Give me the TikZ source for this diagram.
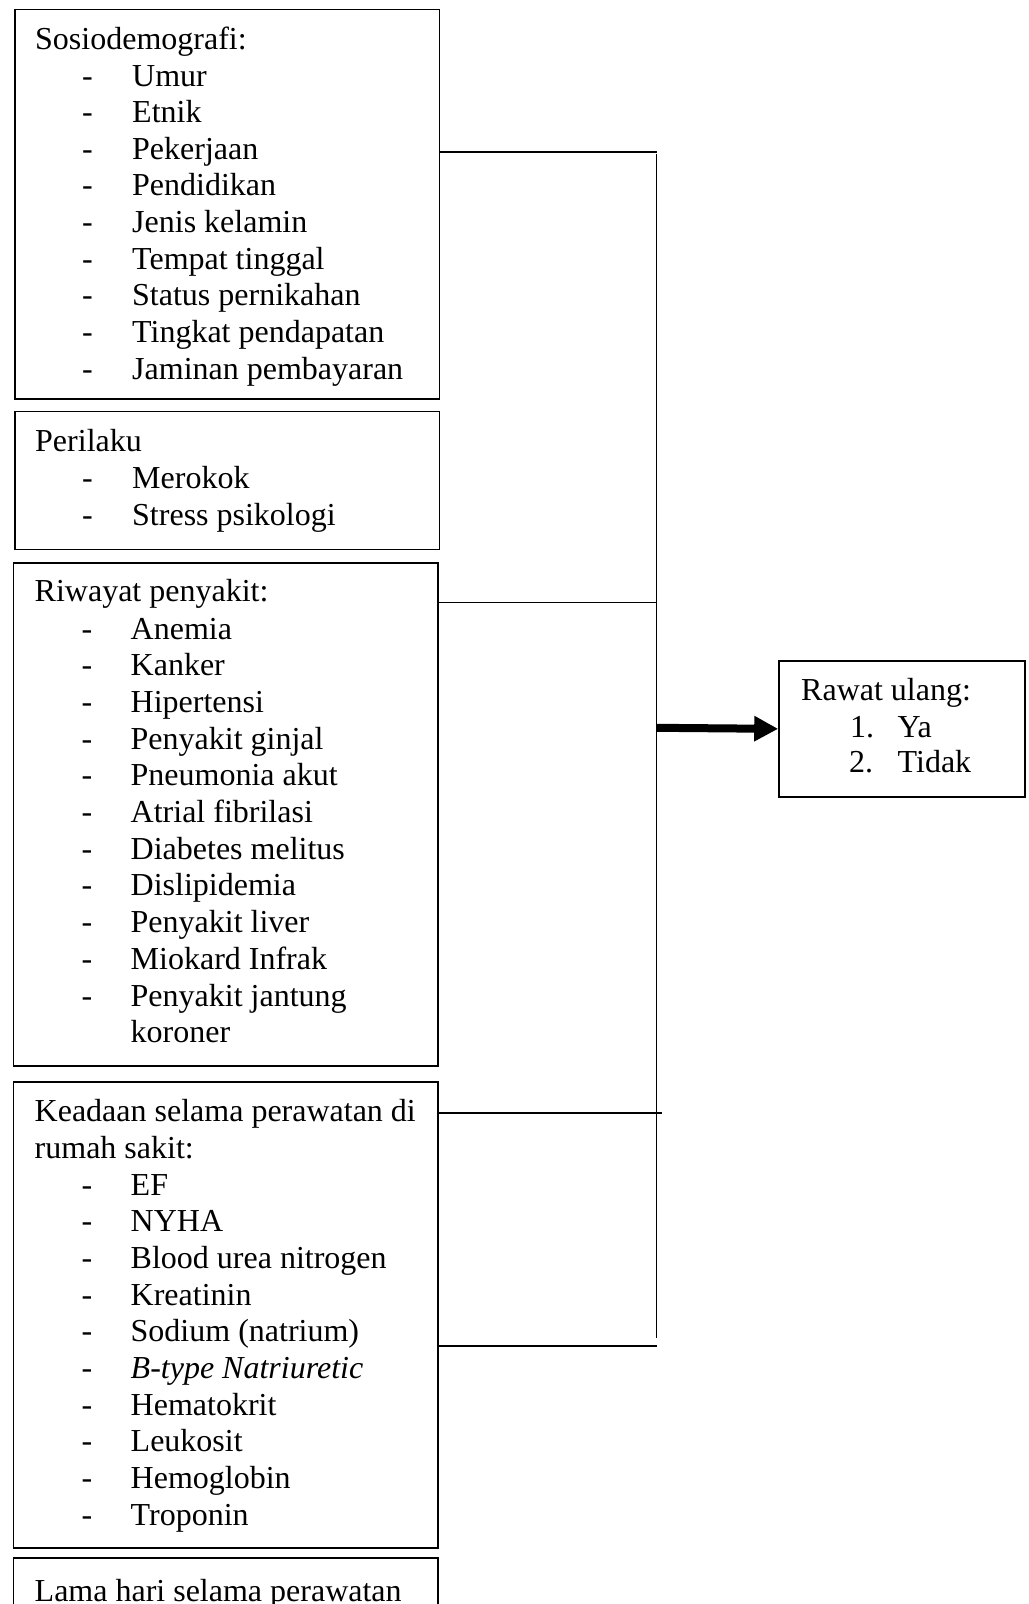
\documentclass[tikz,border=0pt]{standalone}
\usepackage{fontspec}
\setmainfont{Liberation Serif}
\usetikzlibrary{arrows.meta,calc}
\tikzset{
  box/.style={draw, rectangle, line width=1.6bp, inner sep=0pt},
  txt/.style={anchor=base west, inner sep=0pt, font=\fontsize{32bp}{36.7bp}\selectfont},
  conn/.style={line width=1.6bp},
  vline/.style={line width=1.3bp},
  fat/.style={line width=8bp, -{Triangle[length=24bp,width=24bp]}}
}
\begin{document}
\begin{tikzpicture}[x=1bp,y=-1bp]
\useasboundingbox (0,0) rectangle (1028,1604);
% boxes
\node[box, minimum width=424.5bp, minimum height=389.5bp] (b1) at (227.25,204.25) {};
\node[box, minimum width=424.5bp, minimum height=137.8bp] (b2) at (227.25,480.4) {};
\node[box, minimum width=424.2bp, minimum height=503.3bp] (b3) at (225.6,814.35) {};
\node[box, minimum width=424.2bp, minimum height=466bp] (b4) at (225.6,1315) {};
\node[box, minimum width=424.2bp, minimum height=92bp] (b5) at (225.6,1604) {};
\node[box, minimum width=246bp, minimum height=135.7bp] (rawat) at (902,728.85) {};
% box 1
\node[txt] (h1) at (35,49.3) {Sosiodemografi:};
\foreach \t [count=\i] in {Umur, Etnik, Pekerjaan, Pendidikan, Jenis kelamin, Tempat tinggal, Status pernikahan, Tingkat pendapatan, Jaminan pembayaran}{
  \pgfmathsetmacro\yy{86+(\i-1)*36.66}
  \node[txt] (sd\i) at (82,\yy) {-};
  \node[txt] (s\i) at (132,\yy) {\t};
}
% box 2
\node[txt] (h2) at (35,451.7) {Perilaku};
\foreach \t [count=\i] in {Merokok, Stress psikologi}{
  \pgfmathsetmacro\yy{488.3+(\i-1)*36.7}
  \node[txt] (pd\i) at (82,\yy) {-};
  \node[txt] (p\i) at (132,\yy) {\t};
}
% box 3
\node[txt] (h3) at (34.5,601.7) {Riwayat penyakit:};
\foreach \t [count=\i] in {Anemia, Kanker, Hipertensi, Penyakit ginjal, Pneumonia akut, Atrial fibrilasi, Diabetes melitus, Dislipidemia, Penyakit liver, Miokard Infrak, Penyakit jantung}{
  \pgfmathsetmacro\yy{639+(\i-1)*36.7}
  \node[txt] (rd\i) at (81.5,\yy) {-};
  \node[txt] (r\i) at (130.5,\yy) {\t};
}
\node[txt] (r12) at (130.5,1042.7) {koroner};
% box 4
\node[txt] (h4a) at (34.5,1121.5) {Keadaan selama perawatan di};
\node[txt] (h4b) at (34.5,1158.2) {rumah sakit:};
\foreach \t [count=\i] in {EF, NYHA, Blood urea nitrogen, Kreatinin, Sodium (natrium), {\itshape B-type Natriuretic}, Hematokrit, Leukosit, Hemoglobin, Troponin}{
  \pgfmathsetmacro\yy{1195+(\i-1)*36.7}
  \node[txt] (kd\i) at (81.5,\yy) {-};
  \node[txt] (k\i) at (130.5,\yy) {\t};
}
% box 5
\node[txt] (h5) at (34.5,1601.5) {Lama hari selama perawatan};
% outcome box
\node[txt] (o0) at (801,700.5) {Rawat ulang:};
\node[txt] (o1n) at (850,737) {1.};
\node[txt] (o1) at (897.5,737) {Ya};
\node[txt] (o2n) at (849,772.5) {2.};
\node[txt] (o2) at (897.5,772.5) {Tidak};
% connectors
\coordinate (j1) at (657,151.7);
\coordinate (j3) at (656.5,602.3);
\coordinate (j4a) at (662,1113);
\coordinate (j4b) at (657,1346);
\coordinate (vtop) at (656.5,154);
\coordinate (vbot) at (656.5,1338);
\coordinate (ja) at (657,727.8);
\draw[conn] (b1.east |- j1) -- (j1);
\draw[conn] (b3.east |- j3) -- (j3);
\draw[conn] (b4.east |- j4a) -- (j4a);
\draw[conn] (b4.east |- j4b) -- (j4b);
\draw[vline] (vtop) -- (vbot);
\draw[fat] (ja) -- (rawat.west);
\end{tikzpicture}
\end{document}
